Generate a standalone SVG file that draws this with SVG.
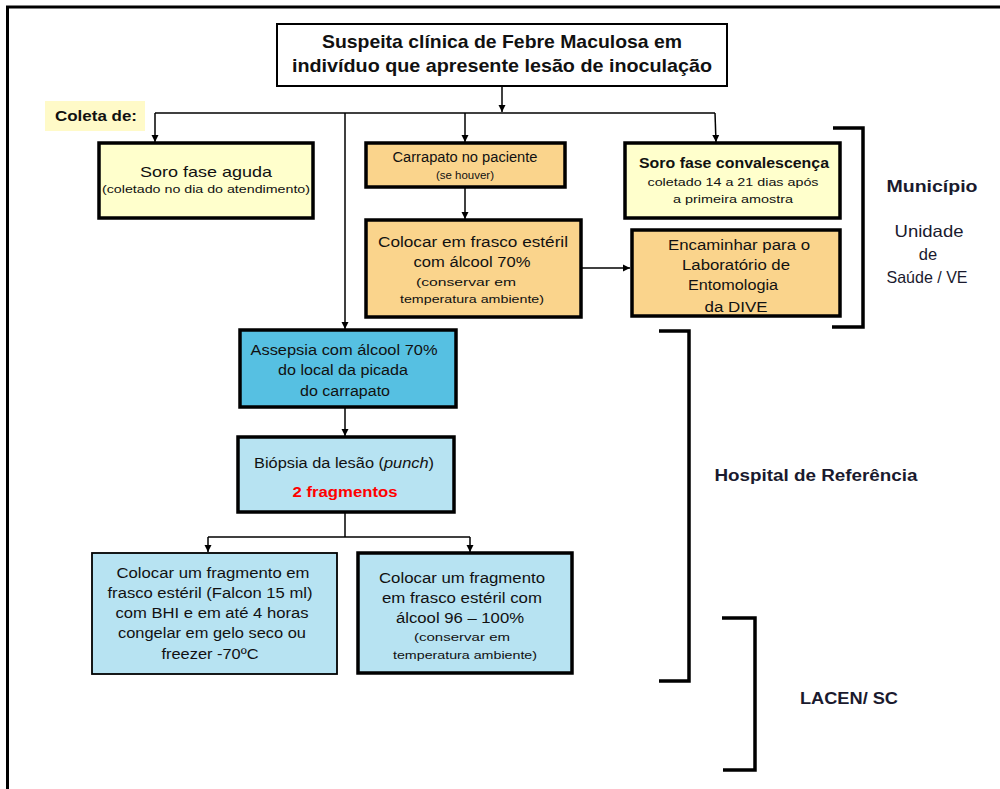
<svg xmlns="http://www.w3.org/2000/svg" width="1000" height="789" viewBox="0 0 1000 789">
<style>
.box{stroke:#000;stroke-width:3.5}
.thin{stroke:#000;stroke-width:1.8}
.y{fill:#FFFFCC}
.o{fill:#FAD48C}
.b{fill:#56C0E2}
.lb{fill:#B7E3F2}
text{font-family:"Liberation Sans",Arial,sans-serif;fill:#111;text-anchor:middle}
.t{font-size:14px}
.s{font-size:11px}
.h{font-family:"Liberation Sans Narrow","Liberation Sans",Arial,sans-serif;font-weight:bold;font-size:19px}
.lab{font-family:"Liberation Sans Narrow","Liberation Sans",Arial,sans-serif;font-weight:bold;font-size:16px;fill:#1a1a2e}
.u{font-size:16.5px;fill:#1a1a2e}
.con{stroke:#000;stroke-width:1.5;fill:none}
.br{stroke:#000;stroke-width:3.5;fill:none}
</style>
<defs>
<marker id="ah" markerWidth="8" markerHeight="8" refX="7" refY="4" orient="auto" markerUnits="userSpaceOnUse">
<path d="M0,0.5 L7,4 L0,7.5 Z" fill="#000"/>
</marker>
</defs>
<rect width="1000" height="789" fill="#fff"/>
<g id="frame">
<path d="M1000,7 L7.5,7 L7.5,789" stroke="#000" stroke-width="3" fill="none"/>
</g>
<g id="connectors">
<line class="con" x1="502" y1="87" x2="502" y2="112" marker-end="url(#ah)"/>
<line class="con" x1="155" y1="113" x2="715" y2="113"/>
<line class="con" x1="155" y1="113" x2="155" y2="142" marker-end="url(#ah)"/>
<line class="con" x1="345" y1="113" x2="345" y2="329" marker-end="url(#ah)"/>
<line class="con" x1="465" y1="113" x2="465" y2="142" marker-end="url(#ah)"/>
<path class="con" d="M715,113 L716,142" marker-end="url(#ah)"/>
<line class="con" x1="465" y1="187" x2="465" y2="219" marker-end="url(#ah)"/>
<line class="con" x1="581" y1="268" x2="630" y2="268" marker-end="url(#ah)"/>
<line class="con" x1="345" y1="407" x2="345" y2="436" marker-end="url(#ah)"/>
<line class="con" x1="345" y1="512" x2="345" y2="537"/>
<line class="con" x1="208" y1="537" x2="470" y2="537"/>
<line class="con" x1="208" y1="537" x2="208" y2="552" marker-end="url(#ah)"/>
<line class="con" x1="470" y1="537" x2="470" y2="552" marker-end="url(#ah)"/>
</g>
<g id="top">
<rect x="277" y="24" width="450" height="62" fill="#fff" stroke="#000" stroke-width="2"/>
<text class="h" x="502" y="48" textLength="360" lengthAdjust="spacingAndGlyphs">Suspeita clínica de Febre Maculosa em</text>
<text class="h" x="502" y="72" textLength="420" lengthAdjust="spacingAndGlyphs">indivíduo que apresente lesão de inoculação</text>
</g>
<g id="coleta">
<rect x="45" y="101" width="100" height="30" fill="#FFFAC8"/>
<text x="96" y="121" textLength="82" lengthAdjust="spacingAndGlyphs" style="font-size:15px;font-weight:bold">Coleta de:</text>
</g>
<g id="soro-aguda">
<rect class="box y" x="99" y="143" width="214" height="75"/>
<text class="t" x="206" y="177" textLength="132" lengthAdjust="spacingAndGlyphs" style="font-size:15px">Soro fase aguda</text>
<text class="s" x="206" y="193" textLength="208" lengthAdjust="spacingAndGlyphs">(coletado no dia do atendimento)</text>
</g>
<g id="carrapato">
<rect class="box o" x="366" y="143" width="199" height="44"/>
<text class="t" x="465" y="162" textLength="145" lengthAdjust="spacingAndGlyphs">Carrapato no paciente</text>
<text class="s" x="465" y="179" textLength="58" lengthAdjust="spacingAndGlyphs">(se houver)</text>
</g>
<g id="soro-conv">
<rect class="box y" x="625" y="143" width="215" height="75"/>
<text class="t" x="734" y="168" textLength="190" lengthAdjust="spacingAndGlyphs" style="font-weight:bold">Soro fase convalescença</text>
<text class="s" x="733" y="186" textLength="171" lengthAdjust="spacingAndGlyphs">coletado 14 a 21 dias após</text>
<text class="s" x="733" y="203" textLength="120" lengthAdjust="spacingAndGlyphs">a primeira amostra</text>
</g>
<g id="frasco">
<rect class="box o" x="366" y="220" width="215" height="97"/>
<text class="t" x="473" y="247" textLength="190" lengthAdjust="spacingAndGlyphs">Colocar em frasco estéril</text>
<text class="t" x="472" y="267" textLength="117" lengthAdjust="spacingAndGlyphs">com álcool 70%</text>
<text class="s" x="466" y="286" textLength="100" lengthAdjust="spacingAndGlyphs">(conservar em</text>
<text class="s" x="472" y="303" textLength="144" lengthAdjust="spacingAndGlyphs">temperatura ambiente)</text>
</g>
<g id="encaminhar">
<rect class="box o" x="632" y="230" width="208" height="86"/>
<text class="t" x="739" y="250" textLength="142" lengthAdjust="spacingAndGlyphs">Encaminhar para o</text>
<text class="t" x="736" y="270" textLength="108" lengthAdjust="spacingAndGlyphs">Laboratório de</text>
<text class="t" x="733" y="290" textLength="90" lengthAdjust="spacingAndGlyphs">Entomologia</text>
<text class="t" x="736" y="312" textLength="63" lengthAdjust="spacingAndGlyphs">da DIVE</text>
</g>
<g id="assepsia">
<rect class="box b" x="240" y="330" width="216" height="77"/>
<text class="t" x="344" y="355" textLength="187" lengthAdjust="spacingAndGlyphs">Assepsia com álcool 70%</text>
<text class="t" x="343" y="375" textLength="130" lengthAdjust="spacingAndGlyphs">do local da picada</text>
<text class="t" x="345" y="396" textLength="90" lengthAdjust="spacingAndGlyphs">do carrapato</text>
</g>
<g id="biopsia">
<rect class="box lb" x="238" y="437" width="216" height="75"/>
<text class="t" x="344" y="468" textLength="180" lengthAdjust="spacingAndGlyphs">Biópsia da lesão (<tspan font-style="italic">punch</tspan>)</text>
<text x="345" y="497" textLength="105" lengthAdjust="spacingAndGlyphs" style="font-size:15px;font-weight:bold;fill:#FF0000">2 fragmentos</text>
</g>
<g id="frag-bhi">
<rect class="thin lb" x="92" y="553" width="245" height="121"/>
<text class="t" x="213" y="578" textLength="193" lengthAdjust="spacingAndGlyphs">Colocar um fragmento em</text>
<text class="t" x="210" y="598" textLength="205" lengthAdjust="spacingAndGlyphs">frasco estéril (Falcon 15 ml)</text>
<text class="t" x="212" y="618" textLength="193" lengthAdjust="spacingAndGlyphs">com BHI e em até 4 horas</text>
<text class="t" x="212" y="638" textLength="188" lengthAdjust="spacingAndGlyphs">congelar em gelo seco ou</text>
<text class="t" x="210" y="659" textLength="97" lengthAdjust="spacingAndGlyphs">freezer -70ºC</text>
</g>
<g id="frag-alcool">
<rect class="box lb" x="358" y="553" width="214" height="120"/>
<text class="t" x="462" y="583" textLength="166" lengthAdjust="spacingAndGlyphs">Colocar um fragmento</text>
<text class="t" x="462" y="603" textLength="160" lengthAdjust="spacingAndGlyphs">em frasco estéril com</text>
<text class="t" x="460" y="623" textLength="128" lengthAdjust="spacingAndGlyphs">álcool 96 – 100%</text>
<text class="s" x="462" y="641" textLength="96" lengthAdjust="spacingAndGlyphs">(conservar em</text>
<text class="s" x="465" y="659" textLength="144" lengthAdjust="spacingAndGlyphs">temperatura ambiente)</text>
</g>
<g id="municipio">
<path class="br" d="M833,128 L863,128 L863,327 L832,327"/>
<text class="lab" x="932" y="192" textLength="91" lengthAdjust="spacingAndGlyphs" style="font-size:17px">Município</text>
<text class="u" x="929" y="237" textLength="69" lengthAdjust="spacingAndGlyphs">Unidade</text>
<text class="u" x="928" y="260">de</text>
<text class="u" x="927" y="283" textLength="81" lengthAdjust="spacingAndGlyphs">Saúde / VE</text>
</g>
<g id="hospital">
<path class="br" d="M659,331 L689,331 L689,681 L659,681"/>
<text class="lab" x="816" y="481" textLength="203" lengthAdjust="spacingAndGlyphs">Hospital de Referência</text>
</g>
<g id="lacen">
<path class="br" d="M722,618 L755,618 L755,770 L723,770"/>
<text class="lab" x="849" y="704" textLength="98" lengthAdjust="spacingAndGlyphs">LACEN/ SC</text>
</g>
</svg>
